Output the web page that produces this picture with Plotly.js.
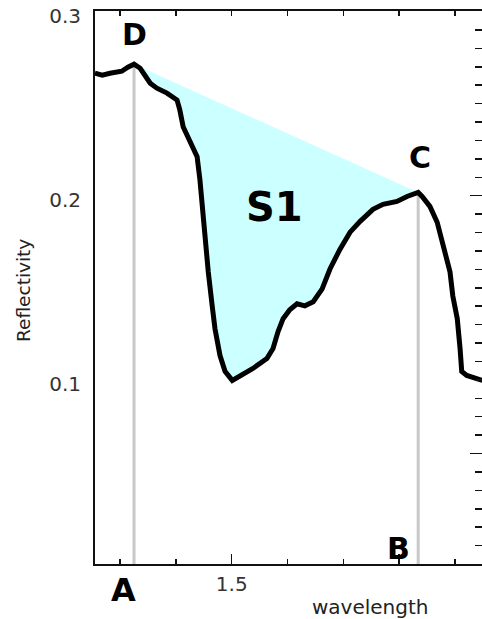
<!DOCTYPE html>
<html>
<head>
<meta charset="utf-8">
<script src="https://cdn.plot.ly/plotly-3.0.1.min.js"></script>
<style>
  html, body { margin: 0; padding: 0; background: #fff; }
  #chart { width: 482px; height: 619px; }
</style>
</head>
<body>
<div id="chart"></div>
<script>
// Reflectance spectrum (wavelength in µm) around an absorption feature.
const wavelength = [
  1.255, 1.268, 1.282, 1.303, 1.314, 1.325, 1.336, 1.345, 1.354, 1.366,
  1.384, 1.402, 1.407, 1.413, 1.425, 1.438, 1.443, 1.447, 1.452, 1.458,
  1.465, 1.470, 1.479, 1.488, 1.501, 1.515, 1.538, 1.563, 1.574, 1.583,
  1.592, 1.604, 1.617, 1.631, 1.646, 1.662, 1.676, 1.694, 1.712, 1.730,
  1.753, 1.771, 1.796, 1.814, 1.834, 1.841, 1.855, 1.868, 1.878, 1.891,
  1.896, 1.904, 1.909, 1.912, 1.921, 1.939, 1.949
];
const reflectivity = [
  0.2665, 0.2655, 0.2665, 0.2676, 0.2698, 0.2714, 0.2692, 0.2655, 0.2611, 0.2584,
  0.2557, 0.2520, 0.2466, 0.2374, 0.2288, 0.2212, 0.2088, 0.1942, 0.1764, 0.1586,
  0.1402, 0.1278, 0.1132, 0.1046, 0.0997, 0.1019, 0.1062, 0.1116, 0.1170, 0.1262,
  0.1332, 0.1381, 0.1413, 0.1402, 0.1424, 0.1494, 0.1602, 0.1710, 0.1802, 0.1861,
  0.1926, 0.1953, 0.1969, 0.1996, 0.2018, 0.1996, 0.1942, 0.1856, 0.1726, 0.1586,
  0.1456, 0.1332, 0.1170, 0.1046, 0.1024, 0.1008, 0.0997
];

// Shoulders of the band: D (left maximum) and C (right maximum)
const shoulderD = 1.325;
const shoulderC = 1.834;

// Axis ticks
const xTickValues = [1.5, 1.8];
const xTickLabels = ['1.5', ''];
const yTickValues = [0.1, 0.2, 0.3];
const yTickLabels = ['0.1', '0.2', '0.3'];
const rightTickValues = [0.06, 0.2];

const iD = wavelength.indexOf(shoulderD);
const iC = wavelength.indexOf(shoulderC);

// Band area S1: spectrum between D and C, closed by the continuum line C-D
const areaX = wavelength.slice(iD, iC + 1).concat([wavelength[iD]]);
const areaY = reflectivity.slice(iD, iC + 1).concat([reflectivity[iD]]);

const grey = '#c8c8c8';
const ink = '#111';
const xRange = [1.2551, 1.9483];
const yRange = [0, 0.3003];
const labelFont = { family: 'DejaVu Sans', size: 20, color: '#333' };
const letterFont = { family: 'DejaVu Sans', size: 30, color: '#000', weight: 'bold' };

const traces = [
  {
    x: areaX, y: areaY, type: 'scatter', mode: 'lines',
    fill: 'toself', fillcolor: '#ccffff',
    line: { width: 0, color: 'rgba(0,0,0,0)' },
    hoverinfo: 'skip', showlegend: false
  },
  {
    x: [wavelength[iD], wavelength[iD]], y: [0, reflectivity[iD]],
    type: 'scatter', mode: 'lines',
    line: { color: grey, width: 3 }, showlegend: false
  },
  {
    x: [wavelength[iC], wavelength[iC]], y: [0, reflectivity[iC]],
    type: 'scatter', mode: 'lines',
    line: { color: grey, width: 3 }, showlegend: false
  },
  {
    x: wavelength, y: reflectivity, type: 'scatter', mode: 'lines',
    line: { color: '#000', width: 5 }, showlegend: false
  },
  // invisible anchor for the top and right tick axes
  { x: [wavelength[0]], y: [reflectivity[0]], xaxis: 'x2', yaxis: 'y2', type: 'scatter', mode: 'markers',
    marker: { opacity: 0 }, hoverinfo: 'skip', showlegend: false }
];

const layout = {
  width: 482, height: 619,
  margin: { l: 95, r: 0, t: 11, b: 55, pad: 0 },
  paper_bgcolor: '#fff', plot_bgcolor: '#fff',
  showlegend: false,
  xaxis: {
    range: xRange,
    showgrid: false, zeroline: false,
    showline: true, linecolor: ink, linewidth: 2,
    tickmode: 'array', tickvals: xTickValues, ticktext: xTickLabels,
    ticks: 'inside', ticklen: 10, tickwidth: 1.5, tickcolor: ink,
    ticklabelstandoff: 1,
    minor: { tickmode: 'linear', tick0: 1.2, dtick: 0.1, ticks: 'inside', ticklen: 5, tickwidth: 1.5, tickcolor: ink, showgrid: false },
    tickfont: labelFont
  },
  xaxis2: {
    range: xRange, overlaying: 'x', side: 'top',
    showgrid: false, zeroline: false,
    showline: true, linecolor: ink, linewidth: 2,
    tickmode: 'linear', tick0: 1.2, dtick: 0.1, showticklabels: false,
    ticks: 'inside', ticklen: 5, tickwidth: 1.5, tickcolor: ink
  },
  yaxis: {
    range: yRange,
    showgrid: false, zeroline: false,
    showline: true, linecolor: ink, linewidth: 2,
    tickmode: 'array', tickvals: yTickValues, ticktext: yTickLabels,
    ticks: '', ticklabelstandoff: 8, ticklabelshift: 4,
    ticklabeloverflow: 'allow',
    tickfont: labelFont
  },
  yaxis2: {
    range: yRange, overlaying: 'y', side: 'right',
    showgrid: false, zeroline: false, showline: false,
    tickmode: 'array', tickvals: rightTickValues, showticklabels: false,
    ticks: 'inside', ticklen: 12, tickwidth: 1.5, tickcolor: ink,
    minor: { tickmode: 'linear', tick0: 0, dtick: 0.01, ticks: 'inside', ticklen: 7, tickwidth: 1.5, tickcolor: ink, showgrid: false }
  },
  annotations: [
    { text: 'wavelength', xref: 'paper', yref: 'paper', x: 0.7106, y: -0.078,
      showarrow: false, xanchor: 'center', yanchor: 'middle',
      font: { family: 'DejaVu Sans', size: 20, color: '#222' } },
    { text: 'Reflectivity', xref: 'paper', yref: 'paper', x: -0.1835, y: 0.4955,
      showarrow: false, textangle: -90, xanchor: 'center', yanchor: 'middle',
      font: { family: 'DejaVu Sans', size: 18.5, color: '#222' } },
    { text: 'D', xref: 'x', yref: 'y', x: wavelength[iD], y: reflectivity[iD],
      yshift: 30, showarrow: false, font: letterFont },
    { text: 'C', xref: 'x', yref: 'y', x: wavelength[iC], y: reflectivity[iC],
      xshift: 2, yshift: 35, showarrow: false, font: letterFont },
    { text: 'B', xref: 'x', yref: 'y', x: wavelength[iC], y: 0,
      xshift: -20, yshift: 16, showarrow: false, font: letterFont },
    { text: 'A', xref: 'x', yref: 'y', x: wavelength[iD], y: 0,
      xshift: -11, yshift: -26, showarrow: false,
      font: { family: 'DejaVu Sans', size: 32, color: '#000', weight: 'bold' } },
    { text: 'S1', xref: 'x', yref: 'y', x: 1.576, y: 0.1937,
      showarrow: false, font: { family: 'DejaVu Sans', size: 40, color: '#000', weight: 'bold' } }
  ]
};

Plotly.newPlot('chart', traces, layout, { staticPlot: true, displayModeBar: false });
</script>
</body>
</html>
